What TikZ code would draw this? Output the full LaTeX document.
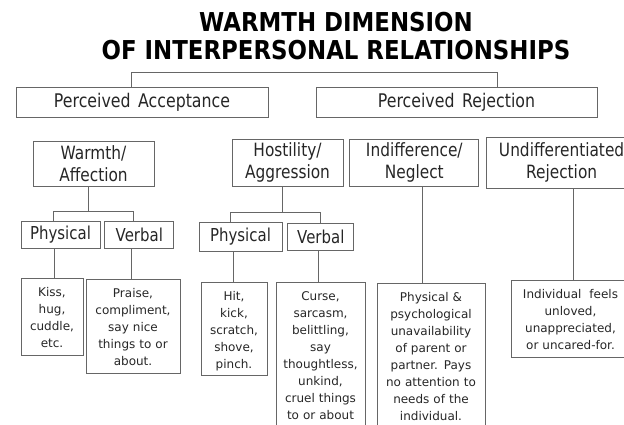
\documentclass[tikz,border=0pt]{standalone}
\usepackage{fontspec}
\setmainfont{DejaVu Sans}
\newfontfamily\titlefont{DejaVu Sans}[FakeStretch=0.88]
\newfontfamily\narrowfont{DejaVu Sans}[FakeStretch=0.84, WordSpace=1.5]
\usetikzlibrary{positioning}
\tikzstyle{heading} = [align=center, inner sep=0pt, font={\titlefont\bfseries\fontsize{26}{28}\selectfont}]
\tikzstyle{branch} = [rectangle, draw=black!60, line width=0.8pt, minimum height=30pt, inner sep=0pt, text=black!85, font={\narrowfont\fontsize{18.8}{22}\selectfont}]
\tikzstyle{category} = [rectangle, draw=black!60, line width=0.8pt, align=center, inner sep=0pt, text=black!85, font={\narrowfont\fontsize{18.3}{22}\selectfont}]
\tikzstyle{mode} = [rectangle, draw=black!60, line width=0.8pt, minimum height=27pt, inner sep=0pt, text=black!85, font={\narrowfont\fontsize{17.8}{20}\selectfont}]
\tikzstyle{example} = [rectangle, draw=black!60, line width=0.8pt, anchor=north, align=center, inner xsep=2pt, inner ysep=5pt, text height=13pt, text=black!85, font={\fontsize{12}{17}\selectfont}]
\tikzstyle{link} = [draw=black!60, line width=0.8pt]

\begin{document}
\begin{tikzpicture}[x=1pt, y=-1pt]
        \clip (0,0) rectangle (624,425);
        % title and the two main branches
        \node[heading] (title) at (336,36) {WARMTH DIMENSION\\OF INTERPERSONAL RELATIONSHIPS};
        \node[branch, minimum width=252pt] (accept) at (142,102) {Perceived Acceptance};
        \node[branch, minimum width=281pt] (reject) at (456.5,102) {Perceived Rejection};
        \coordinate (barleft) at (131,72);
        \coordinate (barright) at (497,72);
        \draw[link] (accept.north -| barleft) |- (barright) -- (reject.north -| barright);

        % second level
        \node[category, minimum width=121pt, minimum height=45pt] (warmth) at (93.5,163.5) {Warmth/\\Affection};
        \node[category, minimum width=111pt, minimum height=47pt] (hostility) at (287.5,162.5) {Hostility/\\Aggression};
        \node[category, minimum width=129pt, minimum height=47pt, right=6pt of hostility] (neglect) {Indifference/\\Neglect};
        \node[category, minimum width=150pt, minimum height=51pt, right=7pt of neglect] (undiff) {Undifferentiated\\Rejection};

        % physical / verbal
        \node[mode, minimum width=79pt] (warmphys) at (60.5,234.5) {Physical};
        \node[mode, minimum width=69pt, right=4pt of warmphys] (warmverb) {Verbal};
        \node[mode, minimum width=83pt, minimum height=29pt] (hostphys) at (240.5,236.5) {Physical};
        \node[mode, minimum width=66pt, right=5pt of hostphys] (hostverb) {Verbal};

        \draw[link] ([xshift=-5.5pt]warmth.south) -- ++(0,25) coordinate (warmfork);
        \draw[link] ([xshift=-7.5pt]warmphys.north) |- (warmfork) -| ([xshift=-5.5pt]warmverb.north);
        \draw[link] ([xshift=-5.5pt]hostility.south) -- ++(0,26) coordinate (hostfork);
        \draw[link] ([xshift=-10pt]hostphys.north) |- (hostfork) -| (hostverb.north);

        % examples
        \node[example, text width=58pt, text depth=54pt] (kiss) at (52,278) {Kiss,\\hug,\\cuddle,\\etc.};
        \node[example, text width=90pt, text depth=71pt] (praise) at (133,279) {Praise,\\compliment,\\say nice\\things to or\\about.};
        \node[example, text width=62pt, text depth=70pt] (hit) at (234,282) {Hit,\\kick,\\scratch,\\shove,\\pinch.};
        \node[example, text width=85pt, text depth=140pt] (curse) at (320.5,282) {Curse,\\sarcasm,\\belittling,\\say\\thoughtless,\\unkind,\\cruel things\\to or about};
        \node[example, text width=104pt, text depth=140pt] (unavail) at (431,283) {Physical \&\\psychological\\unavailability\\of parent or\\partner. Pays\\no attention to\\needs of the\\individual.};
        \node[example, text width=115pt, text depth=54pt] (unloved) at (570.5,280) {Individual\ \ feels\\unloved,\\unappreciated,\\or uncared-for.};

        \draw[link] ([xshift=2pt]kiss.north) |- (warmphys.south);
        \draw[link] ([xshift=-2pt]praise.north) |- (warmverb.south);
        \draw[link] ([xshift=-1pt]hit.north) |- (hostphys.south);
        \draw[link] ([xshift=-2.5pt]curse.north) |- (hostverb.south);
        \draw[link] ([xshift=-9pt]unavail.north) |- (neglect.south);
        \draw[link] ([xshift=2.5pt]unloved.north) |- (undiff.south);
    \end{tikzpicture}
\end{document}
